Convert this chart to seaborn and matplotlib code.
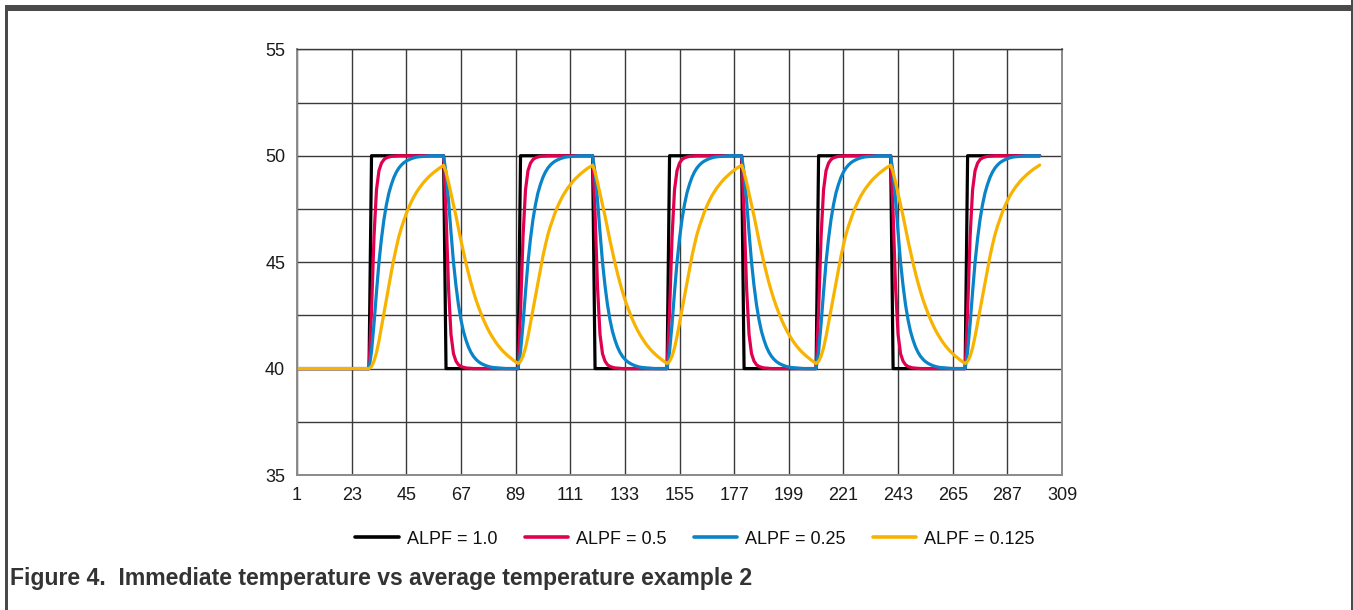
import matplotlib
matplotlib.use("Agg")
import matplotlib.pyplot as plt
import seaborn as sns
import pandas as pd
from matplotlib.patches import Rectangle

sns.set_style("white")
plt.rcParams["font.family"] = ["Liberation Sans", "DejaVu Sans"]

# ---------------------------------------------------------------- data
series_labels = ["ALPF = 1.0", "ALPF = 0.5", "ALPF = 0.25", "ALPF = 0.125"]
x_tick_values = [1, 23, 45, 67, 89, 111, 133, 155, 177, 199, 221, 243, 265, 287, 309]
y_tick_values = [35, 40, 45, 50, 55]

# immediate temperature (ALPF = 1.0): corner points of the square wave
alpf_1_0_x = [1, 30, 31, 60, 61, 90, 91, 120, 121, 150,
              151, 180, 181, 210, 211, 240, 241, 270, 271, 300]
alpf_1_0_y = [40, 40, 50, 50, 40, 40, 50, 50, 40, 40,
              50, 50, 40, 40, 50, 50, 40, 40, 50, 50]

# filtered temperatures, one value per sample 1..300
samples = list(range(1, 301))

alpf_0_5 = [
    # 1-29
    40.0, 40.0, 40.0, 40.0, 40.0, 40.0, 40.0, 40.0, 40.0, 40.0,
    40.0, 40.0, 40.0, 40.0, 40.0, 40.0, 40.0, 40.0, 40.0, 40.0,
    40.0, 40.0, 40.0, 40.0, 40.0, 40.0, 40.0, 40.0, 40.0,
    # 30-60
    40.0, 42.7, 46.2, 48.4, 49.3, 49.65, 49.82, 49.9, 49.94, 49.97,
    49.98, 49.99, 50.0, 50.0, 50.0, 50.0, 50.0, 50.0, 50.0, 50.0,
    50.0, 50.0, 50.0, 50.0, 50.0, 50.0, 50.0, 50.0, 50.0, 50.0,
    50.0,
    # 61-90
    47.3, 43.8, 41.6, 40.7, 40.35, 40.18, 40.1, 40.06, 40.03, 40.02,
    40.01, 40.0, 40.0, 40.0, 40.0, 40.0, 40.0, 40.0, 40.0, 40.0,
    40.0, 40.0, 40.0, 40.0, 40.0, 40.0, 40.0, 40.0, 40.0, 40.0,
    # 91-120
    42.7, 46.2, 48.4, 49.3, 49.65, 49.82, 49.9, 49.94, 49.97, 49.98,
    49.99, 50.0, 50.0, 50.0, 50.0, 50.0, 50.0, 50.0, 50.0, 50.0,
    50.0, 50.0, 50.0, 50.0, 50.0, 50.0, 50.0, 50.0, 50.0, 50.0,
    # 121-150
    47.3, 43.8, 41.6, 40.7, 40.35, 40.18, 40.1, 40.06, 40.03, 40.02,
    40.01, 40.0, 40.0, 40.0, 40.0, 40.0, 40.0, 40.0, 40.0, 40.0,
    40.0, 40.0, 40.0, 40.0, 40.0, 40.0, 40.0, 40.0, 40.0, 40.0,
    # 151-180
    42.7, 46.2, 48.4, 49.3, 49.65, 49.82, 49.9, 49.94, 49.97, 49.98,
    49.99, 50.0, 50.0, 50.0, 50.0, 50.0, 50.0, 50.0, 50.0, 50.0,
    50.0, 50.0, 50.0, 50.0, 50.0, 50.0, 50.0, 50.0, 50.0, 50.0,
    # 181-210
    47.3, 43.8, 41.6, 40.7, 40.35, 40.18, 40.1, 40.06, 40.03, 40.02,
    40.01, 40.0, 40.0, 40.0, 40.0, 40.0, 40.0, 40.0, 40.0, 40.0,
    40.0, 40.0, 40.0, 40.0, 40.0, 40.0, 40.0, 40.0, 40.0, 40.0,
    # 211-240
    42.7, 46.2, 48.4, 49.3, 49.65, 49.82, 49.9, 49.94, 49.97, 49.98,
    49.99, 50.0, 50.0, 50.0, 50.0, 50.0, 50.0, 50.0, 50.0, 50.0,
    50.0, 50.0, 50.0, 50.0, 50.0, 50.0, 50.0, 50.0, 50.0, 50.0,
    # 241-270
    47.3, 43.8, 41.6, 40.7, 40.35, 40.18, 40.1, 40.06, 40.03, 40.02,
    40.01, 40.0, 40.0, 40.0, 40.0, 40.0, 40.0, 40.0, 40.0, 40.0,
    40.0, 40.0, 40.0, 40.0, 40.0, 40.0, 40.0, 40.0, 40.0, 40.0,
    # 271-300
    42.7, 46.2, 48.4, 49.3, 49.65, 49.82, 49.9, 49.94, 49.97, 49.98,
    49.99, 50.0, 50.0, 50.0, 50.0, 50.0, 50.0, 50.0, 50.0, 50.0,
    50.0, 50.0, 50.0, 50.0, 50.0, 50.0, 50.0, 50.0, 50.0, 50.0,
]

alpf_0_25 = [
    # 1-29
    40.0, 40.0, 40.0, 40.0, 40.0, 40.0, 40.0, 40.0, 40.0, 40.0,
    40.0, 40.0, 40.0, 40.0, 40.0, 40.0, 40.0, 40.0, 40.0, 40.0,
    40.0, 40.0, 40.0, 40.0, 40.0, 40.0, 40.0, 40.0, 40.0,
    # 30-60
    40.0, 40.8, 42.1, 43.6, 45.0, 46.1, 47.0, 47.7, 48.25, 48.65,
    48.98, 49.23, 49.42, 49.56, 49.67, 49.75, 49.81, 49.86, 49.90, 49.93,
    49.95, 49.96, 49.97, 49.98, 49.99, 50.0, 50.0, 50.0, 50.0, 50.0,
    50.0,
    # 61-90
    49.2, 47.9, 46.4, 45.0, 43.9, 43.0, 42.3, 41.75, 41.35, 41.02,
    40.77, 40.58, 40.44, 40.33, 40.25, 40.19, 40.14, 40.10, 40.07, 40.05,
    40.04, 40.03, 40.02, 40.01, 40.0, 40.0, 40.0, 40.0, 40.0, 40.0,
    # 91-120
    40.8, 42.1, 43.6, 45.0, 46.1, 47.0, 47.7, 48.25, 48.65, 48.98,
    49.23, 49.42, 49.56, 49.67, 49.75, 49.81, 49.86, 49.90, 49.93, 49.95,
    49.96, 49.97, 49.98, 49.99, 50.0, 50.0, 50.0, 50.0, 50.0, 50.0,
    # 121-150
    49.2, 47.9, 46.4, 45.0, 43.9, 43.0, 42.3, 41.75, 41.35, 41.02,
    40.77, 40.58, 40.44, 40.33, 40.25, 40.19, 40.14, 40.10, 40.07, 40.05,
    40.04, 40.03, 40.02, 40.01, 40.0, 40.0, 40.0, 40.0, 40.0, 40.0,
    # 151-180
    40.8, 42.1, 43.6, 45.0, 46.1, 47.0, 47.7, 48.25, 48.65, 48.98,
    49.23, 49.42, 49.56, 49.67, 49.75, 49.81, 49.86, 49.90, 49.93, 49.95,
    49.96, 49.97, 49.98, 49.99, 50.0, 50.0, 50.0, 50.0, 50.0, 50.0,
    # 181-210
    49.2, 47.9, 46.4, 45.0, 43.9, 43.0, 42.3, 41.75, 41.35, 41.02,
    40.77, 40.58, 40.44, 40.33, 40.25, 40.19, 40.14, 40.10, 40.07, 40.05,
    40.04, 40.03, 40.02, 40.01, 40.0, 40.0, 40.0, 40.0, 40.0, 40.0,
    # 211-240
    40.8, 42.1, 43.6, 45.0, 46.1, 47.0, 47.7, 48.25, 48.65, 48.98,
    49.23, 49.42, 49.56, 49.67, 49.75, 49.81, 49.86, 49.90, 49.93, 49.95,
    49.96, 49.97, 49.98, 49.99, 50.0, 50.0, 50.0, 50.0, 50.0, 50.0,
    # 241-270
    49.2, 47.9, 46.4, 45.0, 43.9, 43.0, 42.3, 41.75, 41.35, 41.02,
    40.77, 40.58, 40.44, 40.33, 40.25, 40.19, 40.14, 40.10, 40.07, 40.05,
    40.04, 40.03, 40.02, 40.01, 40.0, 40.0, 40.0, 40.0, 40.0, 40.0,
    # 271-300
    40.8, 42.1, 43.6, 45.0, 46.1, 47.0, 47.7, 48.25, 48.65, 48.98,
    49.23, 49.42, 49.56, 49.67, 49.75, 49.81, 49.86, 49.90, 49.93, 49.95,
    49.96, 49.97, 49.98, 49.99, 50.0, 50.0, 50.0, 50.0, 50.0, 50.0,
]

alpf_0_125 = [
    # 1-29
    40.0, 40.0, 40.0, 40.0, 40.0, 40.0, 40.0, 40.0, 40.0, 40.0,
    40.0, 40.0, 40.0, 40.0, 40.0, 40.0, 40.0, 40.0, 40.0, 40.0,
    40.0, 40.0, 40.0, 40.0, 40.0, 40.0, 40.0, 40.0, 40.0,
    # 30-60
    40.00, 40.10, 40.35, 40.75, 41.30, 41.95, 42.60, 43.25, 43.90, 44.55,
    45.15, 45.70, 46.20, 46.60, 46.95, 47.28, 47.57, 47.83, 48.06, 48.26,
    48.44, 48.60, 48.75, 48.88, 49.00, 49.11, 49.21, 49.30, 49.39, 49.47,
    49.55,
    # 61-90
    49.23, 48.75, 48.22, 47.70, 47.17, 46.60, 46.02, 45.50, 44.97, 44.49,
    44.04, 43.63, 43.25, 42.92, 42.61, 42.32, 42.06, 41.82, 41.61, 41.42,
    41.24, 41.08, 40.94, 40.81, 40.70, 40.59, 40.50, 40.40, 40.32, 40.24,
    # 91-120
    40.34, 40.58, 40.97, 41.51, 42.14, 42.78, 43.41, 44.05, 44.68, 45.27,
    45.80, 46.29, 46.68, 47.02, 47.35, 47.63, 47.88, 48.11, 48.30, 48.48,
    48.63, 48.78, 48.91, 49.02, 49.13, 49.23, 49.32, 49.41, 49.48, 49.56,
    # 121-150
    49.23, 48.75, 48.22, 47.70, 47.17, 46.60, 46.02, 45.50, 44.97, 44.49,
    44.04, 43.63, 43.25, 42.92, 42.61, 42.32, 42.06, 41.82, 41.61, 41.42,
    41.24, 41.08, 40.94, 40.81, 40.70, 40.59, 40.50, 40.40, 40.32, 40.24,
    # 151-180
    40.34, 40.58, 40.97, 41.51, 42.14, 42.78, 43.41, 44.05, 44.68, 45.27,
    45.80, 46.29, 46.68, 47.02, 47.35, 47.63, 47.88, 48.11, 48.30, 48.48,
    48.63, 48.78, 48.91, 49.02, 49.13, 49.23, 49.32, 49.41, 49.48, 49.56,
    # 181-210
    49.23, 48.75, 48.22, 47.70, 47.17, 46.60, 46.02, 45.50, 44.97, 44.49,
    44.04, 43.63, 43.25, 42.92, 42.61, 42.32, 42.06, 41.82, 41.61, 41.42,
    41.24, 41.08, 40.94, 40.81, 40.70, 40.59, 40.50, 40.40, 40.32, 40.24,
    # 211-240
    40.34, 40.58, 40.97, 41.51, 42.14, 42.78, 43.41, 44.05, 44.68, 45.27,
    45.80, 46.29, 46.68, 47.02, 47.35, 47.63, 47.88, 48.11, 48.30, 48.48,
    48.63, 48.78, 48.91, 49.02, 49.13, 49.23, 49.32, 49.41, 49.48, 49.56,
    # 241-270
    49.23, 48.75, 48.22, 47.70, 47.17, 46.60, 46.02, 45.50, 44.97, 44.49,
    44.04, 43.63, 43.25, 42.92, 42.61, 42.32, 42.06, 41.82, 41.61, 41.42,
    41.24, 41.08, 40.94, 40.81, 40.70, 40.59, 40.50, 40.40, 40.32, 40.24,
    # 271-300
    40.34, 40.58, 40.97, 41.51, 42.14, 42.78, 43.41, 44.05, 44.68, 45.27,
    45.80, 46.29, 46.68, 47.02, 47.35, 47.63, 47.88, 48.11, 48.30, 48.48,
    48.63, 48.78, 48.91, 49.02, 49.13, 49.23, 49.32, 49.41, 49.48, 49.56,
]

for name, arr in (("0.5", alpf_0_5), ("0.25", alpf_0_25), ("0.125", alpf_0_125)):
    if len(arr) != len(samples):
        raise ValueError(f"series {name} has {len(arr)} values")

series_colors = ["#000000", "#E1004F", "#0A84C8", "#F8B300"]

# ---------------------------------------------------------------- frame
df = pd.concat([
    pd.DataFrame({"sample": alpf_1_0_x, "temp": alpf_1_0_y, "series": series_labels[0]}),
    pd.DataFrame({"sample": samples, "temp": alpf_0_5, "series": series_labels[1]}),
    pd.DataFrame({"sample": samples, "temp": alpf_0_25, "series": series_labels[2]}),
    pd.DataFrame({"sample": samples, "temp": alpf_0_125, "series": series_labels[3]}),
], ignore_index=True)

W, H = 1353, 610
fig = plt.figure(figsize=(W / 100, H / 100), dpi=100)
ax = fig.add_axes([297 / W, 135 / H, 765 / W, 425.7 / H])

sns.lineplot(data=df, x="sample", y="temp", hue="series", hue_order=series_labels,
             palette=series_colors, linewidth=2.3, estimator=None, sort=False,
             ax=ax, legend=True)

ax.set_xlim(1, 309)
ax.set_ylim(35, 55)
ax.set_xticks(x_tick_values)
ax.set_yticks(y_tick_values)
ax.set_yticks([37.5, 42.5, 47.5, 52.5], minor=True)
ax.set_axisbelow(True)
ax.grid(True, which="both", color="#3a3a3a", linewidth=1.0)
ax.tick_params(which="both", length=0, labelsize=13, pad=8.5, colors="#1a1a1a")
ax.set_xlabel("")
ax.set_ylabel("")
for side in ("left", "bottom", "right"):
    ax.spines[side].set_color("#8a8a8a")
    ax.spines[side].set_linewidth(1.4)
ax.spines["top"].set_color("#3a3a3a")
ax.spines["top"].set_linewidth(1.0)

handles, labels = ax.get_legend_handles_labels()
ax.get_legend().remove()
for h in handles:
    h.set_linewidth(2.6)
fig.legend(handles, labels, loc="center", bbox_to_anchor=(695 / W, 71 / H), ncol=4,
           frameon=False, fontsize=13, handlelength=2.4, handletextpad=0.45,
           columnspacing=1.5, labelcolor="#111111")

fig.text(10 / W, 32 / H, "Figure 4.  Immediate temperature vs average temperature example 2",
         fontsize=16.6, fontweight="bold", color="#333333", ha="left", va="center")

# document frame lines
fig.add_artist(Rectangle((5 / W, (H - 11) / H), (W - 5) / W, 6 / H,
                         transform=fig.transFigure, facecolor="#4a4a4a", edgecolor="none"))
fig.add_artist(Rectangle((5 / W, 0), 3 / W, (H - 5) / H,
                         transform=fig.transFigure, facecolor="#4a4a4a", edgecolor="none"))
fig.add_artist(Rectangle(((W - 2.5) / W, 0), 2 / W, 1,
                         transform=fig.transFigure, facecolor="#4a4a4a", edgecolor="none"))

fig.savefig("out.png", dpi=100)
